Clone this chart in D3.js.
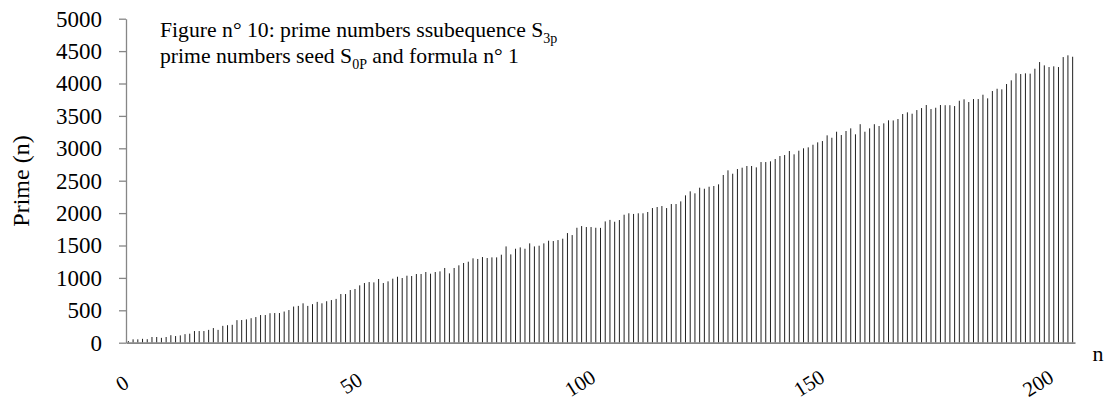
<!DOCTYPE html>
<html>
<head>
<meta charset="utf-8">
<script src="https://cdn.jsdelivr.net/npm/d3@7"></script>
<style>
  body { margin: 0; background: #fff; }
  svg { display: block; font-family: "Liberation Serif", "Times New Roman", serif; }
</style>
</head>
<body>
<script>
// Prime (n) values, n = 0 .. 200
const primeValues = [
  25, 52, 52, 60, 54, 88, 88, 75, 88, 116,
  103, 113, 132, 139, 180, 180, 180, 198, 226, 198,
  260, 270, 276, 348, 350, 360, 378, 396, 427, 427,
  455, 458, 458, 481, 504, 558, 568, 608, 568, 595,
  630, 608, 640, 658, 676, 751, 751, 813, 829, 885,
  921, 936, 931, 983, 921, 947, 988, 1018, 998, 1034,
  1029, 1060, 1060, 1091, 1065, 1091, 1101, 1153, 1070, 1153,
  1194, 1230, 1250, 1302, 1292, 1322, 1307, 1317, 1317, 1358,
  1486, 1363, 1450, 1471, 1450, 1533, 1486, 1497, 1533, 1574,
  1569, 1584, 1605, 1692, 1661, 1774, 1800, 1785, 1785, 1774,
  1772, 1872, 1895, 1867, 1893, 1975, 1997, 1987, 1997, 1997,
  2017, 2078, 2094, 2109, 2078, 2140, 2140, 2181, 2274, 2336,
  2305, 2392, 2376, 2407, 2418, 2444, 2588, 2660, 2608, 2680,
  2701, 2727, 2727, 2706, 2788, 2788, 2799, 2835, 2881, 2896,
  2958, 2907, 2963, 3000, 3015, 3055, 3092, 3112, 3200, 3163,
  3256, 3205, 3267, 3308, 3216, 3372, 3256, 3308, 3372, 3344,
  3385, 3432, 3430, 3452, 3529, 3555, 3534, 3590, 3621, 3668,
  3606, 3626, 3668, 3665, 3665, 3652, 3734, 3756, 3714, 3760,
  3760, 3827, 3771, 3884, 3919, 3910, 3992, 4049, 4157, 4146,
  4157, 4152, 4228, 4331, 4280, 4254, 4265, 4254, 4408, 4435,
  4413
];

const nValues = d3.range(0, primeValues.length); // categories n
const yTicks = [0, 500, 1000, 1500, 2000, 2500, 3000, 3500, 4000, 4500, 5000];
const xTickLabels = [0, 50, 100, 150, 200];

const svgWidth = 1113;
const svgHeight = 410;
const plotLeft = 126;
const plotRight = 1075;
const plotTop = 18.7;
const plotBottom = 342.7;
const axisColour = "#868686";

const svg = d3.select("body")
  .append("svg")
  .attr("width", svgWidth)
  .attr("height", svgHeight);

const xScale = d3.scaleBand()
  .domain(nValues)
  .range([plotLeft, plotRight]);

const yScale = d3.scaleLinear()
  .domain([0, 5000])
  .range([plotBottom, plotTop]);

// the rotated 0..200 labels sit on their own scale (not lined up with the columns)
const labelScale = d3.scaleLinear()
  .domain([0, 200])
  .range([122, 1038]);

// thin columns
svg.append("g")
  .selectAll("rect")
  .data(primeValues)
  .enter()
  .append("rect")
  .attr("x", (d, i) => xScale(nValues[i]) + xScale.bandwidth() / 2 - 0.5)
  .attr("y", d => yScale(d))
  .attr("width", 1)
  .attr("height", d => plotBottom - yScale(d))
  .attr("fill", "#222");

// y axis
const yAxis = d3.axisLeft(yScale)
  .tickValues(yTicks)
  .tickSizeInner(7)
  .tickSizeOuter(0)
  .tickPadding(17)
  .tickFormat(d3.format("d"));

const yG = svg.append("g")
  .attr("transform", "translate(" + plotLeft + ",0)")
  .call(yAxis);
yG.selectAll("path, line").attr("stroke", axisColour).attr("stroke-width", 1.3);
yG.selectAll("text")
  .attr("fill", "#000")
  .style("font-family", "'Liberation Serif', serif")
  .style("font-size", "23px");

// x axis line only
const xAxis = d3.axisBottom(xScale).tickValues([]).tickSizeOuter(0);
const xG = svg.append("g")
  .attr("transform", "translate(0," + plotBottom + ")")
  .call(xAxis);
xG.select(".domain").attr("stroke", axisColour).attr("stroke-width", 1.8);

// rotated n labels
svg.append("g")
  .selectAll("text")
  .data(xTickLabels)
  .enter()
  .append("text")
  .attr("transform", d => "translate(" + labelScale(d) + ",383) rotate(-32)")
  .attr("text-anchor", "middle")
  .attr("dy", "0.35em")
  .style("font-size", "21px")
  .text(d => d);

// axis titles
svg.append("text")
  .attr("transform", "translate(29,181) rotate(-90)")
  .attr("text-anchor", "middle")
  .style("font-size", "24px")
  .text("Prime (n)");

svg.append("text")
  .attr("x", 1098)
  .attr("y", 361)
  .attr("text-anchor", "middle")
  .style("font-size", "22px")
  .text("n");

// chart title, two lines with subscripts
const title = svg.append("text")
  .attr("x", 160)
  .attr("y", 37)
  .style("font-size", "21.7px");
title.append("tspan").text("Figure n° 10: prime numbers ssubequence S");
title.append("tspan").attr("dy", 6).style("font-size", "14px").text("3p");

const title2 = svg.append("text")
  .attr("x", 160)
  .attr("y", 63)
  .style("font-size", "21.7px");
title2.append("tspan").text("prime numbers seed S");
title2.append("tspan").attr("dy", 6).style("font-size", "14px").text("0P");
title2.append("tspan").attr("dy", -6).text(" and formula n° 1");
</script>
</body>
</html>
